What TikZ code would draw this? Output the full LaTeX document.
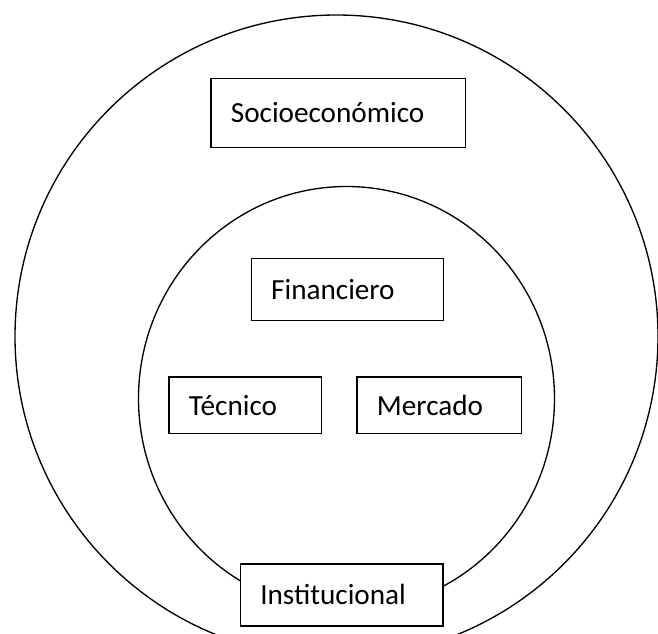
\documentclass[tikz,border=0pt]{standalone}
\usepackage{fontspec}
\setmainfont{Carlito}
\usetikzlibrary{positioning}

\begin{document}
\begin{tikzpicture}[
  x = 0.75pt,
  y = -0.75pt,
  ring/.style = {draw, line width = 1pt},
  factor/.style = {draw, fill = white, line width = 1pt, anchor = north west,
    inner xsep = 15pt, inner ysep = 0pt, align = left,
    font = \fontsize{21.9}{26}\selectfont},
  ]
  \clip (0,0) rectangle (658,633);

  \draw[ring] (336.5,336.5) ellipse [x radius = 321.5, y radius = 321.5];
  \draw[ring] (346.5,398.5) ellipse [x radius = 208, y radius = 212];

  \node[factor, text width = 161.1pt, minimum height = 52pt]
    (socio) at (210.2,77.6) {Socioeconómico};
  \node[factor, text width = 114.2pt, minimum height = 46.6pt]
    (finan) at (250.5,257.7) {Financiero};
  \node[factor, text width = 84.5pt, minimum height = 42.2pt]
    (tecn) at (168.3,376.4) {Técnico};
  \node[factor, text width = 93.4pt, minimum height = 42.2pt]
    (merc) at (356.3,376.4) {Mercado};
  \node[factor, text width = 122pt, minimum height = 46.6pt]
    (inst) at (239.6,563.2) {Institucional};
\end{tikzpicture}
\end{document}
